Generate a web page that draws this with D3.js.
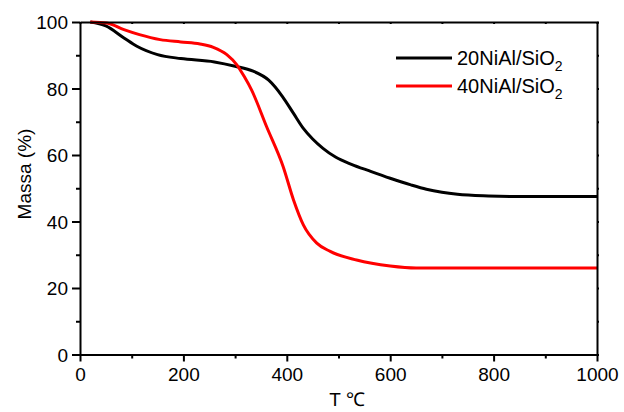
<!DOCTYPE html>
<html>
<head>
<meta charset="utf-8">
<script src="https://cdn.jsdelivr.net/npm/d3@7"></script>
<style>
  body { margin: 0; background: #fff; }
  text { font-family: Arial, "Liberation Sans", sans-serif; }
</style>
</head>
<body>
<div id="chart"></div>
<script>
// TGA curves
var temp20 = [20, 50, 85, 110, 150, 195, 260, 300, 335, 365, 392, 413, 432, 450, 470, 495, 525, 560, 600, 640, 670, 700, 730, 790, 860, 1000];
var mass20 = [100, 98.8, 95.2, 92.7, 90.2, 89, 88, 86.7, 85.2, 82.5, 77.5, 72.5, 68, 64.8, 62, 59.3, 57.2, 55.2, 53, 51, 49.7, 48.8, 48.2, 47.7, 47.5, 47.5];

var temp40 = [20, 52, 85, 115, 155, 195, 232, 258, 284, 303, 318, 332, 361, 393, 413, 432, 458, 484, 535, 600, 650, 1000];
var mass40 = [100, 99.7, 97.7, 96.2, 94.7, 94, 93.4, 92.4, 90.2, 87.2, 83.5, 79.5, 68.5, 56.5, 46.5, 39, 33.5, 31, 28.4, 26.6, 26, 26];

var xTicks = [0, 200, 400, 600, 800, 1000];
var yTicks = [0, 20, 40, 60, 80, 100];

var seriesNames = ["20NiAl/SiO", "40NiAl/SiO"];
var seriesColors = ["#000000", "#ff0000"];

var W = 624, H = 412;
var margin = {top: 22, right: 27, bottom: 57.5, left: 80};
var width = W - margin.left - margin.right;
var height = H - margin.top - margin.bottom;

var svg = d3.select("#chart").append("svg")
    .attr("width", W).attr("height", H);
var g = svg.append("g")
    .attr("transform", "translate(" + margin.left + "," + margin.top + ")");

var x = d3.scaleLinear().domain([0, 1000]).range([0, width]);
var y = d3.scaleLinear().domain([0, 100]).range([height, 0]);

// curves
var line = d3.line()
    .x(function(d) { return x(d[0]); })
    .y(function(d) { return y(d[1]); })
    .curve(d3.curveMonotoneX);

var data20 = temp20.map(function(t, i) { return [t, mass20[i]]; });
var data40 = temp40.map(function(t, i) { return [t, mass40[i]]; });

g.append("path").datum(data20)
    .attr("fill", "none").attr("stroke", seriesColors[0])
    .attr("stroke-width", 3).attr("d", line);
g.append("path").datum(data40)
    .attr("fill", "none").attr("stroke", seriesColors[1])
    .attr("stroke-width", 3).attr("d", line);

// axes
var minorX = d3.range(100, 1000, 200);
var minorY = d3.range(10, 100, 20);

function styleAxis(sel) {
  sel.selectAll("path").attr("stroke-width", 2);
  sel.selectAll("line").attr("stroke-width", 2);
  sel.selectAll("text").attr("font-size", 19).attr("fill", "#000");
}

var xAxis = g.append("g")
    .attr("transform", "translate(0," + height + ")")
    .call(d3.axisBottom(x).tickValues(xTicks).tickFormat(d3.format("d"))
      .tickSize(7).tickSizeOuter(0).tickPadding(6));
styleAxis(xAxis);
var xMinor = g.append("g")
    .attr("transform", "translate(0," + height + ")")
    .call(d3.axisBottom(x).tickValues(minorX).tickSize(4).tickFormat(""));
xMinor.select("path").remove();
styleAxis(xMinor);

var yAxis = g.append("g")
    .call(d3.axisLeft(y).tickValues(yTicks).tickSize(8).tickSizeOuter(0).tickPadding(4));
styleAxis(yAxis);
yAxis.selectAll("text").attr("dy", "0.36em");
var yMinor = g.append("g")
    .call(d3.axisLeft(y).tickValues(minorY).tickSize(4).tickFormat(""));
yMinor.select("path").remove();
styleAxis(yMinor);

// top and right frame with small ticks
var topAxis = g.append("g")
    .call(d3.axisTop(x).tickValues(d3.range(0, 1001, 100)).tickSize(-2).tickSizeOuter(0).tickFormat(""));
styleAxis(topAxis);
var rightAxis = g.append("g")
    .attr("transform", "translate(" + width + ",0)")
    .call(d3.axisRight(y).tickValues(d3.range(0, 101, 10)).tickSize(2).tickSizeOuter(0).tickFormat(""));
styleAxis(rightAxis);

// axis titles
svg.append("text")
    .attr("x", 347).attr("y", 406)
    .attr("text-anchor", "middle")
    .attr("font-size", 19)
    .text("T \u2103");

svg.append("text")
    .attr("transform", "translate(31,174) rotate(-90)")
    .attr("text-anchor", "middle")
    .attr("font-size", 19)
    .text("Massa (%)");

// legend
var legendY = [58, 86];
seriesNames.forEach(function(name, i) {
  svg.append("line")
      .attr("x1", 396).attr("x2", 452)
      .attr("y1", legendY[i]).attr("y2", legendY[i])
      .attr("stroke", seriesColors[i]).attr("stroke-width", 3);
  var t = svg.append("text")
      .attr("x", 457).attr("y", legendY[i] + 7)
      .attr("font-size", 20);
  t.append("tspan").text(name);
  t.append("tspan").attr("font-size", 14).attr("dy", 6).text("2");
});
</script>
</body>
</html>
